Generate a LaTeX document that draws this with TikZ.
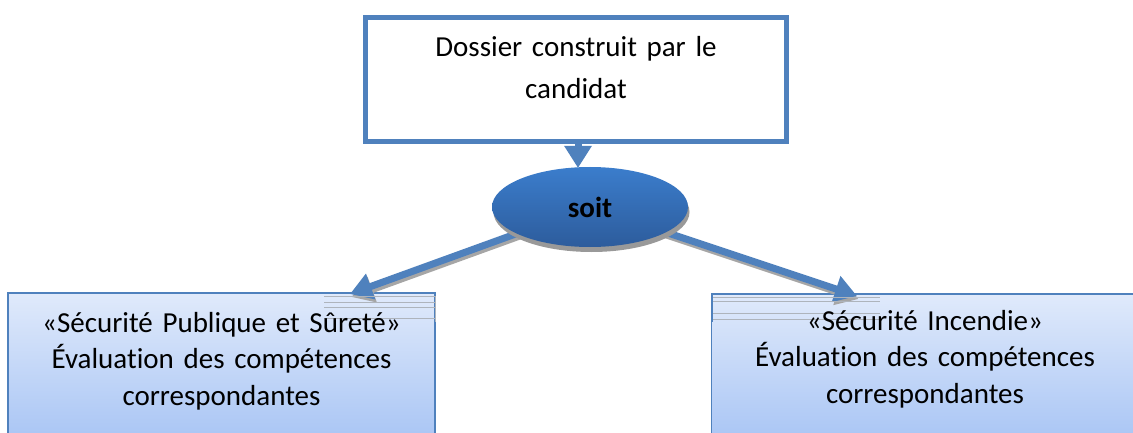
\documentclass[tikz,border=0pt]{standalone}
\usepackage{fontspec}
\setmainfont{Carlito}[Ligatures={NoCommon}]
\usetikzlibrary{arrows.meta,shapes.geometric,shadows}
\definecolor{boxblue}{HTML}{4F81BD}
\definecolor{lighttop}{HTML}{E0EAFB}
\definecolor{lightbot}{HTML}{A4C2F4}
\definecolor{elltop}{HTML}{3B7DCC}
\definecolor{ellbot}{HTML}{2D5C9C}
\definecolor{artgray}{HTML}{AEB4BC}
\pgfdeclarelayer{bg}
\pgfdeclarelayer{mid}
\pgfsetlayers{bg,mid,main}
\tikzset{
  topbox/.style={draw=boxblue, line width=5pt, fill=white, rectangle,
    minimum width=421pt, minimum height=124pt, inner sep=0pt},
  lowbox/.style={draw=boxblue, line width=1.5pt, rectangle,
    top color=lighttop, bottom color=lightbot,
    minimum width=427pt, minimum height=160pt, inner sep=0pt},
  txt/.style={align=center, text width=420pt, inner sep=0pt, anchor=base},
  soitell/.style={ellipse, minimum width=196pt, minimum height=80pt,
    top color=elltop, bottom color=ellbot, inner sep=0pt,
    drop shadow={shadow xshift=1.5pt, shadow yshift=-5pt, fill=black!40, opacity=1},
    font=\fontsize{29}{34}\selectfont\bfseries},
  arr/.style={line width=7pt, draw=boxblue,
    -{Triangle[width=26pt,length=22pt]}},
  arrshadow/.style={line width=7pt, draw=black!35,
    -{Triangle[width=26pt,length=22pt]}, transform canvas={xshift=1.5pt,yshift=-3pt}},
  artline/.style={draw=artgray, line width=1pt}
}
\begin{document}
\begin{tikzpicture}[x=1pt,y=-1pt]
\useasboundingbox (0,0) rectangle (1133,433);
\clip (0,0) rectangle (1133,433);

\begin{pgfonlayer}{bg}
  \fill[white] (0,0) rectangle (1133,433);
  \node[lowbox] (lbox) at (221.5,373) {};
  \node[lowbox] (rbox) at (925,374) {};
  \node[topbox] (top) at (576,79.5) {};
\end{pgfonlayer}

\node[soitell] (soit) at (590,207) {\raisebox{-3pt}{soit}};

\coordinate (ltip) at (350,294);
\coordinate (rtip) at (857,296);
\coordinate (dtip) at (578,168);
\coordinate (dstart) at (578,140);

\begin{pgfonlayer}{mid}
  \draw[arrshadow] (soit.center) -- (ltip);
  \draw[arrshadow] (soit.center) -- (rtip);
  \draw[arr] (soit.center) -- (ltip);
  \draw[arr] (soit.center) -- (rtip);
  \draw[arr] (dstart) -- (dtip);
  % rendering artefacts near the arrow tips
  \draw[artline] (324,296) -- (435,296);
  \draw[artline] (324,302) -- (435,302);
  \draw[artline] (324,307) -- (435,307);
  \draw[artline] (324,318) -- (435,318);
  \draw[artline] (435,296) -- (435,322);
  \draw[artline] (712,297) -- (880,297);
  \draw[artline] (712,301) -- (880,301);
  \draw[artline] (712,313) -- (880,313);
  \draw[artline] (712,319) -- (880,319);
  \draw[boxblue, line width=2pt] (712,294) -- (712,322);
\end{pgfonlayer}

\node[txt, font=\fontsize{29}{42}\selectfont] (toptext) at (576,57)
  {Dossier construit par le\\candidat};
\node[txt, font=\fontsize{29}{36.5}\selectfont] (ltext) at (221.5,332)
  {«Sécurité Publique et Sûreté»\\Évaluation des compétences\\correspondantes};
\node[txt, font=\fontsize{29}{36.5}\selectfont] (rtext) at (925,330)
  {«Sécurité Incendie»\\Évaluation des compétences\\correspondantes};
\end{tikzpicture}
\end{document}
